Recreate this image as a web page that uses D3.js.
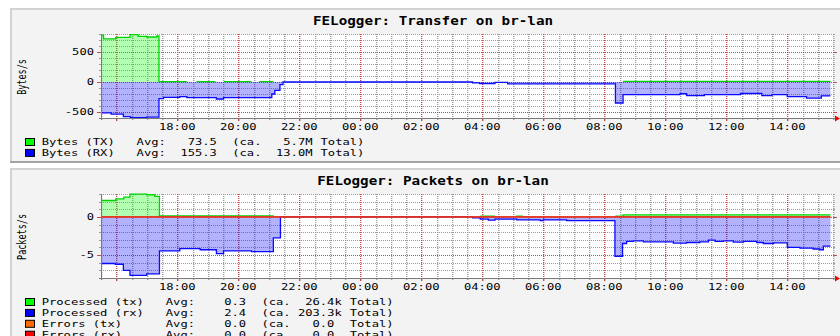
<!DOCTYPE html>
<html>
<head>
<meta charset="utf-8">
<script src="https://cdn.jsdelivr.net/npm/d3@7"></script>
<style>
  html, body { margin: 0; padding: 0; background: #ffffff; }
  svg { display: block; }
</style>
</head>
<body>
<svg id="chart" width="840" height="336"></svg>
<script>
// ---- time window (24 h, clock times after the start wrap to the next day) ----
const startTime = "15:30";
const endTime = "15:25";           // last sample

// ---- step series: [clock time, value]; a value holds until the next entry; null = unknown ----
const bytesTx = [
  ["15:30", 780], ["15:35", 718], ["15:59", 745], ["16:27", 790], ["16:43", 762],
  ["17:00", 750], ["17:20", 767], ["17:24", 6], ["18:19", null], ["18:38", 6],
  ["19:15", null], ["19:32", 6], ["20:26", null], ["20:41", 6], ["21:09", null],
  ["08:37", 10]
];
const bytesRx = [
  ["15:30", -515], ["15:50", -535], ["16:14", -578], ["16:28", -595], ["17:00", -585],
  ["17:24", -278], ["17:33", -255], ["18:05", -245], ["18:19", -262], ["19:17", -283],
  ["19:31", -262], ["21:06", -200], ["21:12", -140], ["21:22", -45], ["21:28", 0],
  ["03:41", -15], ["03:55", -28], ["04:25", -6], ["04:50", -30], ["08:22", -350],
  ["08:37", -212], ["10:29", -196], ["10:42", -228], ["11:17", -212], ["12:28", -192],
  ["13:10", -228], ["13:30", -212], ["14:00", -244], ["14:38", -268], ["15:07", -232]
];
const packetsTx = [
  ["15:30", 2.15], ["15:59", 2.35], ["16:15", 2.6], ["16:27", 2.98], ["17:00", 2.9],
  ["17:16", 2.7], ["17:25", 0.13], ["21:10", null], ["03:56", 0.1], ["04:25", null],
  ["05:06", 0.1], ["05:20", null], ["08:22", 0.1], ["08:37", 0.26]
];
const packetsRx = [
  ["15:30", -6.1], ["15:58", -6.2], ["16:14", -7.0], ["16:27", -7.65], ["17:00", -7.45],
  ["17:25", -4.45], ["18:05", -4.15], ["18:45", -4.3], ["19:17", -4.8], ["19:31", -4.45],
  ["20:26", -4.55], ["21:09", -2.75], ["21:23", 0], ["03:41", -0.13], ["03:56", -0.3],
  ["04:12", -0.43], ["04:25", -0.3], ["05:08", -0.39], ["05:54", -0.48], ["06:00", -0.39],
  ["06:46", -0.48], ["08:21", -5.15], ["08:36", -3.48], ["08:44", -3.2], ["08:57", -3.13],
  ["09:17", -3.26], ["10:16", -3.43], ["10:42", -3.35], ["11:08", -3.26], ["11:25", -3.04],
  ["11:38", -3.2], ["11:54", -3.13], ["12:14", -3.3], ["12:34", -3.2], ["13:00", -3.35],
  ["13:13", -3.48], ["13:33", -3.4], ["14:00", -4.0], ["14:25", -4.09], ["14:51", -4.2],
  ["15:04", -4.3], ["15:11", -3.83]
];
const errorsTx = [["15:30", 0]];
const errorsRx = [["15:30", 0]];

// ---- legends ----
const transferNames = ["Bytes (TX)", "Bytes (RX)"];
const transferAvg = [73.5, 155.3];
const transferTotal = [5.7, 13.0];
const transferUnit = ["M", "M"];
const packetNames = ["Processed (tx)", "Processed (rx)", "Errors (tx)", "Errors (rx)"];
const packetAvg = [0.3, 2.4, 0.0, 0.0];
const packetTotal = [26.4, 203.3, 0.0, 0.0];
const packetUnit = ["k", "k", "", ""];

// ---- y axes ----
const transferDomain = [-600, 800];
const transferMajor = [-500, 0, 500];
const transferMinorStep = 100;
const packetsDomain = [-8, 3];
const packetsMajor = [-5, 0];
const packetsMinorStep = 1;

// ---------------------------------------------------------------------------
const FONT = "'DejaVu Sans Mono', monospace";
const FS = 8.5;      // small text size
const SX = 1.427;    // horizontal glyph stretch
const CW = 7.3;      // resulting character cell width
const fmt1 = d3.format(".1f");

const svg = d3.select("#chart");

const base = Date.UTC(2024, 0, 1, 15, 30);
function toDate(s) {
  const [h, m] = s.split(":").map(Number);
  let mins = h * 60 + m - (15 * 60 + 30);
  if (mins < 0) mins += 1440;
  return new Date(base + mins * 60000);
}
const t0 = toDate(startTime);
const t1 = new Date(+t0 + 24 * 3600e3);

const PL = 101, PR = 833, PT = 34, PB = 118;
const x = d3.scaleUtc().domain([t0, t1]).range([PL, PR]);

const GRID = "#9c9c9c", MGRID = "#bd4d4d";

function text(parent, px, py, str, opts = {}) {
  const g = parent.append("g")
    .attr("transform", `translate(${px},${py}) scale(${opts.sx || SX},1)` + (opts.rotate ? ` rotate(${opts.rotate})` : ""));
  g.append("text")
    .attr("text-anchor", opts.anchor || "start")
    .attr("font-family", FONT)
    .attr("font-size", opts.size || FS)
    .attr("font-weight", opts.weight || "normal")
    .attr("fill", "#000")
    .text(str);
  return g;
}

// expand change points into explicit step segments
function expand(steps) {
  const pts = [];
  steps.forEach((s, i) => {
    const a = toDate(s[0]);
    const b = i + 1 < steps.length ? toDate(steps[i + 1][0]) : toDate(endTime);
    pts.push({ t: a, v: s[1] }, { t: b, v: s[1] });
  });
  return pts;
}

const crisp = v => Math.round(v) + 0.5;

function drawPanel(cfg) {
  const g = svg.append("g").attr("transform", `translate(0,${cfg.top})`);

  // panel background with bevelled border
  g.append("rect").attr("x", 10).attr("y", 8).attr("width", 840).attr("height", cfg.panelH)
    .attr("fill", "#f3f3f3");
  g.append("line").attr("x1", 10).attr("x2", 850).attr("y1", 9).attr("y2", 9)
    .attr("stroke", "#d2d2d2").attr("stroke-width", 2);
  g.append("line").attr("x1", 11).attr("x2", 11).attr("y1", 8).attr("y2", 8 + cfg.panelH)
    .attr("stroke", "#d2d2d2").attr("stroke-width", 2);
  if (cfg.bottomEdge) {
    g.append("line").attr("x1", 10).attr("x2", 850).attr("y1", 8 + cfg.panelH - 1).attr("y2", 8 + cfg.panelH - 1)
      .attr("stroke", "#a4a4a4").attr("stroke-width", 2);
  }

  // title
  text(g, 433, 25, cfg.title, { anchor: "middle", size: 11.5, weight: "bold", sx: 1.24 });

  // canvas
  g.append("rect").attr("x", PL).attr("y", PT).attr("width", PR - PL).attr("height", PB - PT)
    .attr("fill", "#ffffff");

  const y = d3.scaleLinear().domain(cfg.domain).range([PB, PT]);

  // horizontal grid
  const eps = 1e-9;
  const minorVals = d3.range(cfg.domain[0], cfg.domain[1] + eps, cfg.minorStep)
    .filter(v => !cfg.major.some(m => Math.abs(m - v) < eps));
  const grid = g.append("g");
  minorVals.forEach(v => {
    const yy = crisp(y(v));
    grid.append("line").attr("x1", PL).attr("x2", PR).attr("y1", yy).attr("y2", yy)
      .attr("stroke", GRID).attr("stroke-dasharray", "1,1");
    grid.append("line").attr("x1", PL - 2).attr("x2", PL).attr("y1", yy).attr("y2", yy).attr("stroke", GRID);
    grid.append("line").attr("x1", PR).attr("x2", PR + 2).attr("y1", yy).attr("y2", yy).attr("stroke", GRID);
  });

  // vertical grid (lines are a little wider, as the glyphs are)
  const minorT = x.ticks(d3.utcMinute.every(30));
  const majorT = x.ticks(d3.utcHour.every(2));
  const isMajor = t => majorT.some(m => +m === +t);
  minorT.filter(t => !isMajor(t)).forEach(t => {
    const xx = Math.round(x(t)) + 0.7;
    grid.append("line").attr("x1", xx).attr("x2", xx).attr("y1", PT).attr("y2", PB)
      .attr("stroke", GRID).attr("stroke-width", 1.4).attr("stroke-dasharray", "1,1");
    grid.append("line").attr("x1", xx).attr("x2", xx).attr("y1", PB).attr("y2", PB + 2)
      .attr("stroke", GRID).attr("stroke-width", 1.4);
  });
  majorT.forEach(t => {
    const xx = Math.round(x(t)) + 0.7;
    grid.append("line").attr("x1", xx).attr("x2", xx).attr("y1", PT).attr("y2", PB)
      .attr("stroke", MGRID).attr("stroke-width", 1.4).attr("stroke-dasharray", "1,1");
    grid.append("line").attr("x1", xx).attr("x2", xx).attr("y1", PB).attr("y2", PB + 3)
      .attr("stroke", MGRID).attr("stroke-width", 1.4);
  });
  cfg.major.forEach(v => {
    const yy = crisp(y(v));
    grid.append("line").attr("x1", PL).attr("x2", PR).attr("y1", yy).attr("y2", yy)
      .attr("stroke", MGRID).attr("stroke-dasharray", "1,1");
    grid.append("line").attr("x1", PL - 4).attr("x2", PL).attr("y1", yy).attr("y2", yy).attr("stroke", MGRID);
    grid.append("line").attr("x1", PR).attr("x2", PR + 4).attr("y1", yy).attr("y2", yy).attr("stroke", MGRID);
  });

  // data: areas first, then lines
  const area = d3.area().defined(d => d.v != null)
    .x(d => x(d.t)).y0(y(0)).y1(d => y(d.v));
  const line = d3.line().defined(d => d.v != null)
    .x(d => x(d.t)).y(d => y(d.v));
  cfg.series.filter(s => s.area).forEach(s => {
    g.append("path").datum(expand(s.steps)).attr("d", area)
      .attr("fill", s.color).attr("fill-opacity", 0.3);
  });
  cfg.series.forEach(s => {
    g.append("path").datum(expand(s.steps)).attr("d", line)
      .attr("fill", "none").attr("stroke", s.lineColor || s.color).attr("stroke-width", 1.3);
  });

  // axes
  g.append("line").attr("x1", PL - 2).attr("x2", PR + 2).attr("y1", PB + 0.5).attr("y2", PB + 0.5)
    .attr("stroke", "#7a7a7a");
  g.append("line").attr("x1", PL + 0.5).attr("x2", PL + 0.5).attr("y1", PT).attr("y2", PB + 2)
    .attr("stroke", "#7a7a7a");
  g.append("path").attr("d", `M${PR + 2},${PB - 2.5}L${PR + 7},${PB + 0.5}L${PR + 2},${PB + 3.5}Z`)
    .attr("fill", "#ff0000");

  // y tick labels
  cfg.major.forEach(v => text(g, 94, y(v) + 3.2, String(v), { anchor: "end" }));

  // x tick labels (only where the label fits inside the canvas)
  const fmtT = d3.utcFormat("%H:%M");
  majorT.forEach(t => {
    const xx = x(t);
    if (xx - 18 >= PL && xx + 18 <= 840) text(g, xx, 130, fmtT(t), { anchor: "middle" });
  });

  // vertical unit label
  text(g, 26, (PT + PB) / 2 + 1, cfg.yLabel, { anchor: "middle", sx: 1.35, rotate: -90 });

  // legend
  const lx = 41.7;
  const avgX = lx + (d3.max(cfg.names, n => n.length) + 3) * CW;
  cfg.names.forEach((n, i) => {
    const by = 145 + i * 10.9;
    g.append("rect").attr("x", 25.5).attr("y", by - 6.5).attr("width", 9).attr("height", 7)
      .attr("fill", cfg.legendColors[i]).attr("stroke", "#000").attr("stroke-width", 1);
    text(g, lx, by, n);
    text(g, avgX, by, "Avg:");
    text(g, avgX + 11 * CW, by, fmt1(cfg.avg[i]), { anchor: "end" });
    text(g, avgX + 13.1 * CW, by, "(ca.");
    text(g, avgX + 23.1 * CW, by, fmt1(cfg.total[i]), { anchor: "end" });
    if (cfg.unit[i]) text(g, avgX + 23.1 * CW, by, cfg.unit[i]);
    text(g, avgX + 25.2 * CW, by, "Total)");
  });
}

drawPanel({
  top: 0, panelH: 155, bottomEdge: true,
  title: "FELogger: Transfer on br-lan",
  yLabel: "Bytes/s",
  domain: transferDomain, major: transferMajor, minorStep: transferMinorStep,
  series: [
    { steps: bytesTx, color: "#00ff00", lineColor: "#00d400", area: true },
    { steps: bytesRx, color: "#0000ff", lineColor: "#0a0aff", area: true }
  ],
  names: transferNames, avg: transferAvg, total: transferTotal, unit: transferUnit,
  legendColors: ["#00ff00", "#0000ff"]
});

drawPanel({
  top: 160, panelH: 200, bottomEdge: false,
  title: "FELogger: Packets on br-lan",
  yLabel: "Packets/s",
  domain: packetsDomain, major: packetsMajor, minorStep: packetsMinorStep,
  series: [
    { steps: packetsTx, color: "#00ff00", lineColor: "#00d400", area: true },
    { steps: packetsRx, color: "#0000ff", lineColor: "#0a0aff", area: true },
    { steps: errorsTx, color: "#ff6a00", area: false },
    { steps: errorsRx, color: "#ff0000", lineColor: "#e81c1c", area: false }
  ],
  names: packetNames, avg: packetAvg, total: packetTotal, unit: packetUnit,
  legendColors: ["#00ff00", "#0000ff", "#ff6a00", "#ff0000"]
});
</script>
</body>
</html>
